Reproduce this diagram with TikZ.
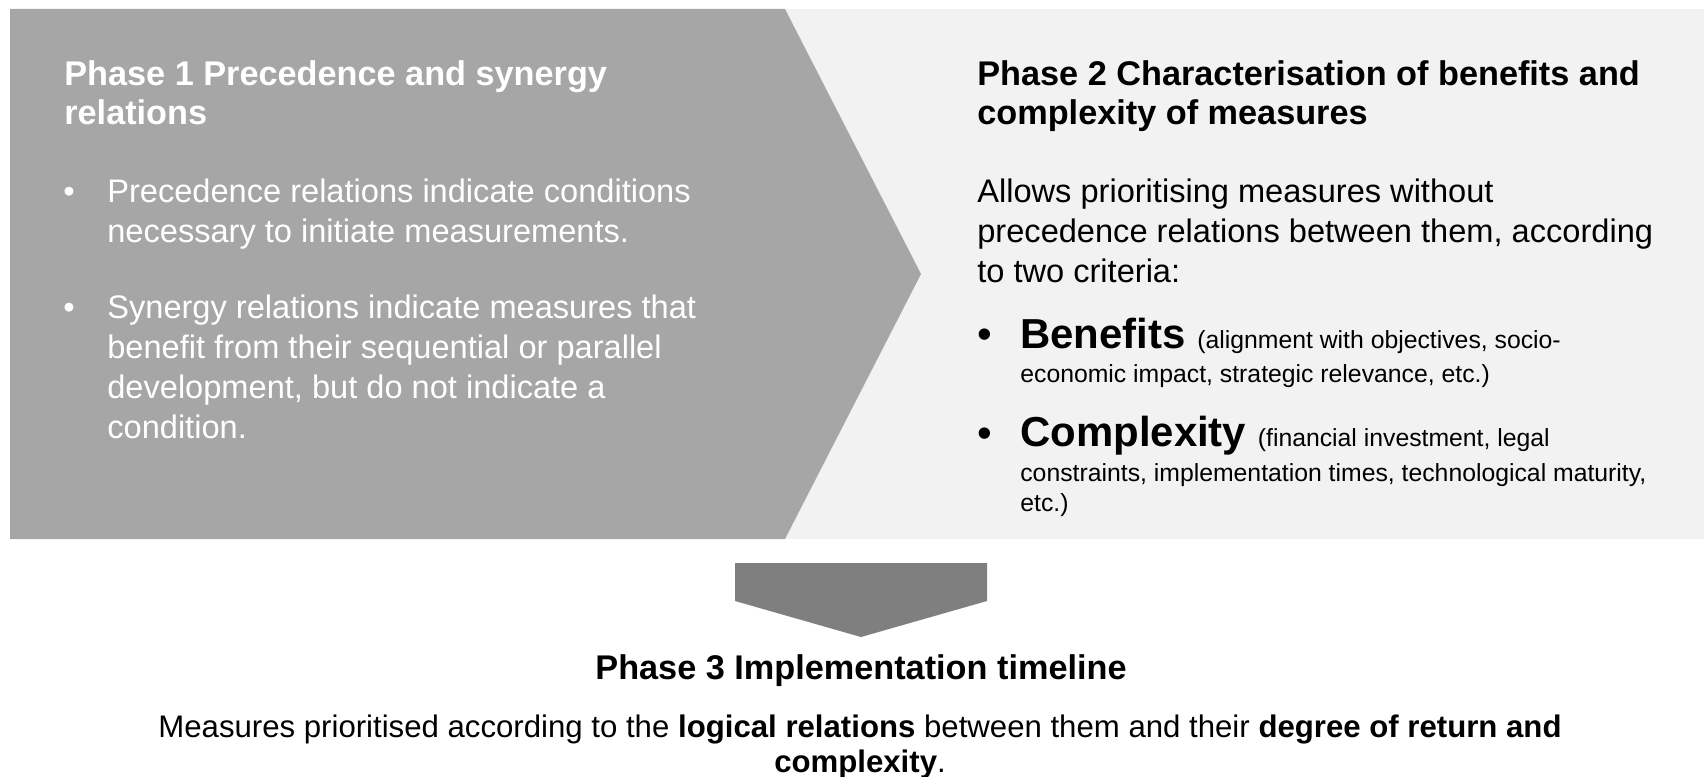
\documentclass[tikz,border=0pt]{standalone}
\usepackage{fontspec}
\setmainfont{Liberation Sans}
\usetikzlibrary{positioning}

\definecolor{chevgray}{RGB}{166,166,166}
\definecolor{panelgray}{RGB}{242,242,242}
\definecolor{arrowgray}{RGB}{127,127,127}

% multi-line nodes sit on the baseline of their last line
\tikzset{
  heading/.style={anchor=base west,align=left,inner sep=0pt,font=\fontsize{19.5}{22.76}\selectfont\bfseries},
  body/.style={anchor=base west,align=left,inner sep=0pt,font=\fontsize{18.55}{22.76}\selectfont},
  dot/.style={anchor=base west,inner sep=0pt,font=\fontsize{18.55}{22.76}\selectfont},
  bigdot/.style={anchor=base west,inner sep=0pt,font=\fontsize{23.85}{28}\selectfont},
  crit/.style={anchor=base west,align=left,inner sep=0pt,font=\fontsize{14.1}{17.07}\selectfont}
}
\newcommand{\critname}[1]{{\fontsize{23.85}{28}\selectfont\bfseries #1 }}

\begin{document}
\begin{tikzpicture}[x=0.02cm,y=-0.02cm]
    \useasboundingbox (0,0) rectangle (1704,777);

    % panels
    \fill[panelgray] (10,9) rectangle (1704,539);
    \fill[chevgray] (10,9) -- (785,9) -- (921,274) -- (785,539) -- (10,539) -- cycle;
    \fill[arrowgray] (735,563) -- (987,563) -- (987,601) -- (861,637) -- (735,601) -- cycle;

    % phase 1
    \node[heading,white] (p1title) at (64,125) {Phase 1 Precedence and synergy\\relations};
    \node[dot,white] (p1dota) at (63,202) {•};
    \node[body,white] (p1itema) at (107,242) {Precedence relations indicate conditions\\necessary to initiate measurements.};
    \node[dot,white] (p1dotb) at (63,318) {•};
    \node[body,white] (p1itemb) at (107,438) {Synergy relations indicate measures that\\benefit from their sequential or parallel\\development, but do not indicate a\\condition.};

    % phase 2
    \node[heading] (p2title) at (977,125) {Phase 2 Characterisation of benefits and\\complexity of measures};
    \node[body] (p2intro) at (977,282) {Allows prioritising measures without\\precedence relations between them, according\\to two criteria:};
    \node[bigdot] (p2dota) at (977,348) {•};
    \node[crit] (benefits) at (1020,382.5) {\critname{Benefits}(alignment with objectives, socio-\\[2.5pt]economic impact, strategic relevance, etc.)};
    \node[bigdot] (p2dotb) at (977,447) {•};
    \node[crit] (complexity) at (1020,511) {\critname{Complexity}(financial investment, legal\\[2.5pt]constraints, implementation times, technological maturity,\\etc.)};

    % phase 3
    \node[heading,anchor=base] (p3title) at (861,679) {Phase 3 Implementation timeline};
    \node[body,anchor=base,align=center,font=\fontsize{17.74}{19.9}\selectfont] (p3text) at (860,772)
        {Measures prioritised according to the \textbf{logical relations} between them and their \textbf{degree of return and}\\\textbf{complexity}.};
\end{tikzpicture}
\end{document}
